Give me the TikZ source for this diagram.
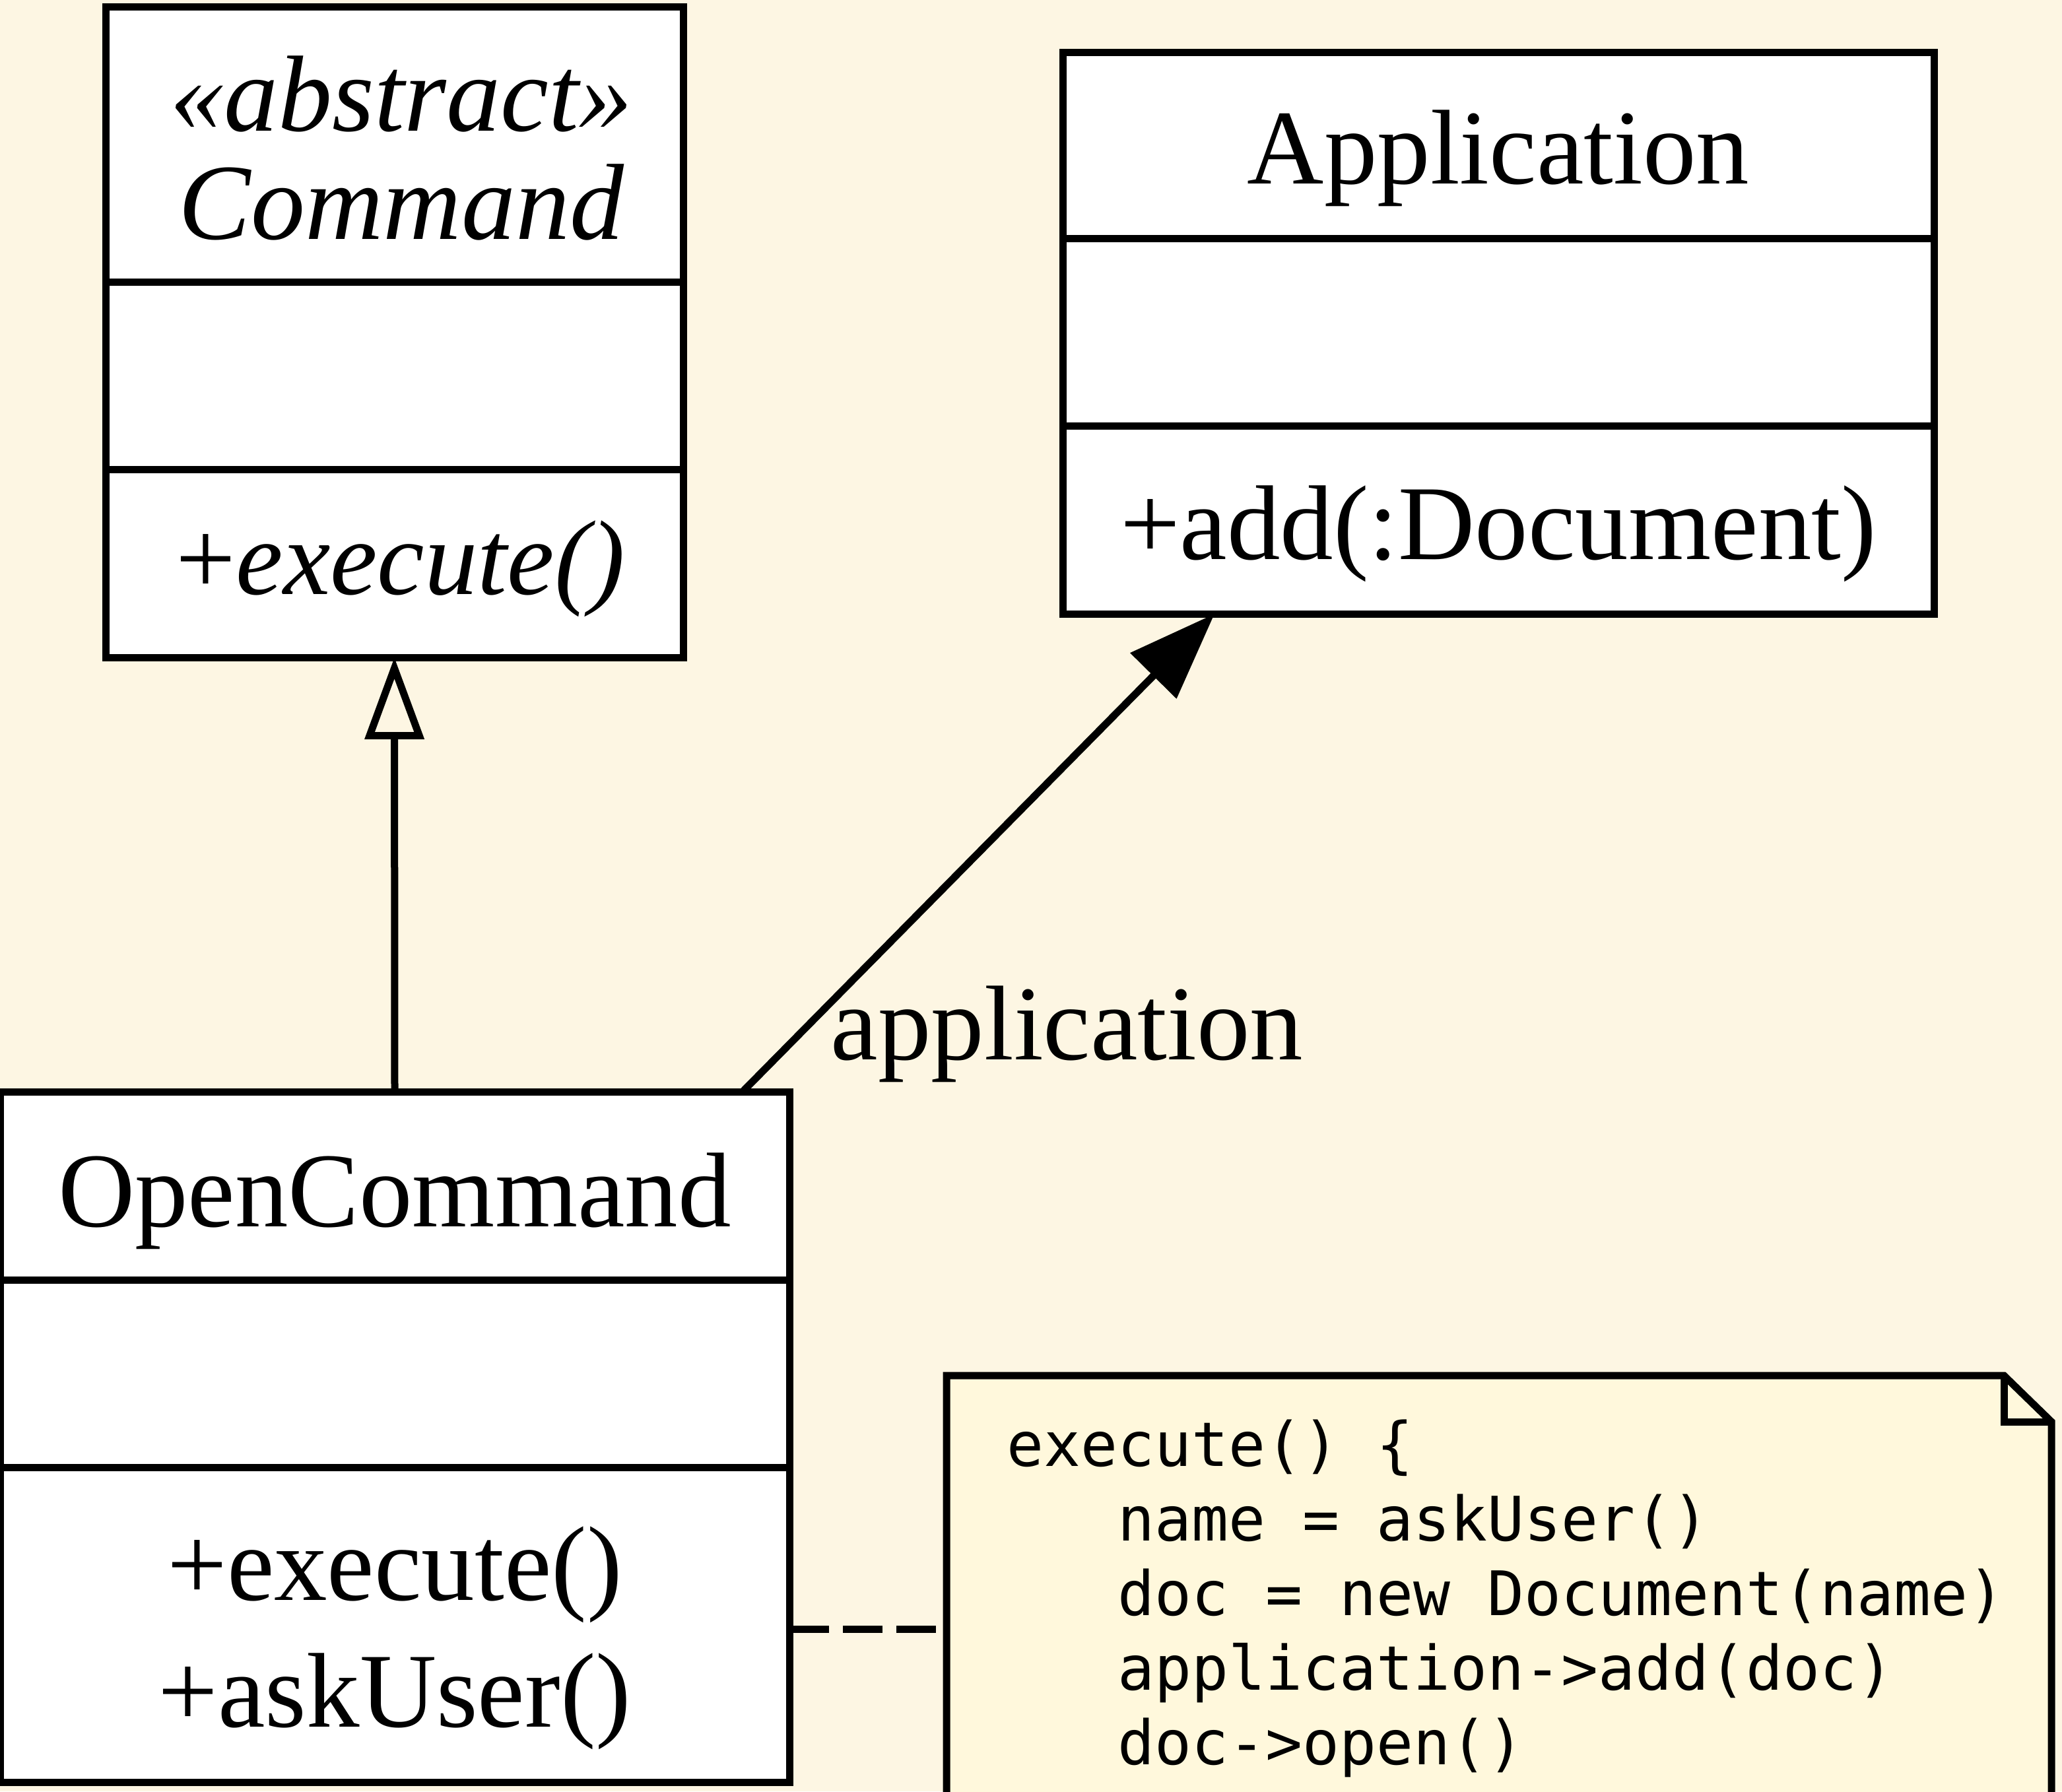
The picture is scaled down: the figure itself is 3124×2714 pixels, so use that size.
\documentclass[tikz,border=0pt]{standalone}
\usepackage{fontspec}
\setmainfont{Liberation Serif}
\newfontfamily\notemono{DejaVu Sans Mono}
\usetikzlibrary{arrows.meta,calc}
\definecolor{bgcream}{HTML}{FDF6E3}
\definecolor{notefill}{HTML}{FFF8DC}
\begin{document}
\begin{tikzpicture}[x=0.25pt,y=-0.25pt,
  uml/.style={draw, line width=2.75pt, fill=white, rectangle, inner sep=0pt, outer sep=0pt, anchor=north west},
  lbl/.style={inner sep=0pt, anchor=base, font=\fontsize{40.25pt}{48pt}\selectfont},
  lblit/.style={inner sep=0pt, anchor=base, font=\fontsize{41pt}{48pt}\selectfont\itshape},
  code/.style={inner sep=0pt, anchor=base west, font=\notemono\fontsize{23.25pt}{28pt}\selectfont},
  sepline/.style={line width=2.75pt},
  conn/.style={line width=2.75pt},
  notebox/.style={draw, line width=2.75pt, fill=notefill, line join=miter},
]
\useasboundingbox (0,0) rectangle (3124,2714);
\fill[bgcream] (0,0) rectangle (3124,2714);
\clip (0,0) rectangle (3124,2714);

% Command
\node[uml, minimum width=218.75pt, minimum height=246.5pt] (cmd) at (160,10) {};
\draw[sepline] ($(cmd.north west)+(0,417)$) -- ($(cmd.north east)+(0,417)$);
\draw[sepline] ($(cmd.north west)+(0,701)$) -- ($(cmd.north east)+(0,701)$);
\node[lblit] (cmdst) at (608,198) {«abstract»};
\node[lblit] (cmdname) at (608,362) {Command};
\node[lbl] (cmdop) at (607,900) {+\textit{execute()}};

% Application
\node[uml, minimum width=330pt, minimum height=212.75pt] (app) at (1610,79) {};
\draw[sepline] ($(app.north west)+(0,282)$) -- ($(app.north east)+(0,282)$);
\draw[sepline] ($(app.north west)+(0,566)$) -- ($(app.north east)+(0,566)$);
\node[lbl] (appname) at (2270,278) {Application};
\node[lbl] (appop) at (2270,847) {+add(:Document)};

% OpenCommand
\node[uml, minimum width=299pt, minimum height=261.5pt] (oc) at (0,1654) {};
\draw[sepline] ($(oc.north west)+(0,285)$) -- ($(oc.north east)+(0,285)$);
\draw[sepline] ($(oc.north west)+(0,569)$) -- ($(oc.north east)+(0,569)$);
\node[lbl] (ocname) at (598,1858) {OpenCommand};
\node[lbl] (ocop1) at (598,2424) {+execute()};
\node[lbl] (ocop2) at (598,2616) {+askUser()};

% Note
\node[inner sep=0pt, outer sep=0pt, minimum width=418.5pt, minimum height=189pt, anchor=north west] (note) at (1434,2084) {};
\draw[notebox] (note.north west) -- ($(note.north east)+(-72,0)$) -- ($(note.north east)+(0,70)$) -- (note.south east) -- (note.south west) -- cycle;
\draw[sepline, line join=miter] ($(note.north east)+(-72,0)$) -- ($(note.north east)+(-72,70)$) -- ($(note.north east)+(0,70)$);
\node[code] (c1) at (1525,2221) {execute() \{};
\node[code] (c2) at (1693,2334) {name = askUser()};
\node[code] (c3) at (1693,2447) {doc = new Document(name)};
\node[code] (c4) at (1693,2560) {application->add(doc)};
\node[code] (c5) at (1693,2673) {doc->open()};
\node[code] (c6) at (1525,2786) {\}};

% Connectors
\draw[conn, -{Triangle[open, length=31pt, width=22pt]}] (oc.north) -- (cmd.south);
\draw[conn, -{Triangle[length=33pt, width=24pt]}] ($(oc.north)+(527,0)$) -- ($(app.south)+(-430,0)$);
\node[lbl, anchor=base west] (assoclbl) at (1258,1605) {application};
\coordinate (dashy) at (0,2468);
\draw[conn, dash pattern=on 15pt off 5.25pt] (oc.east |- dashy) -- (note.west |- dashy);
\end{tikzpicture}
\end{document}
